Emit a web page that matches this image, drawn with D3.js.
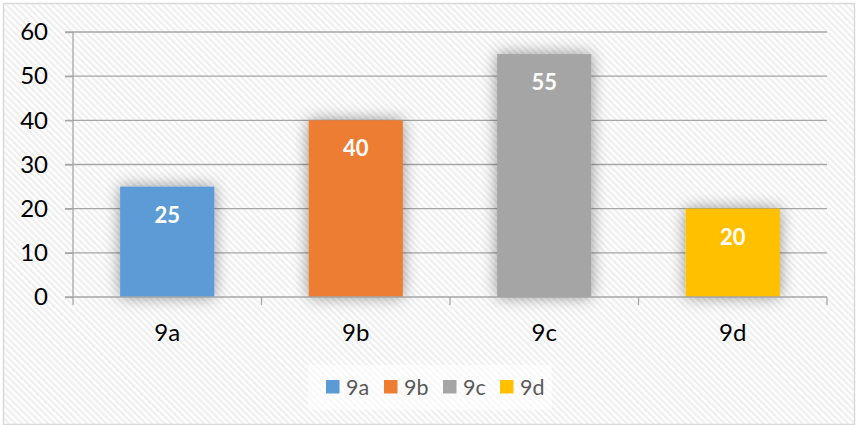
<!DOCTYPE html>
<html>
<head>
<meta charset="utf-8">
<script src="https://cdn.jsdelivr.net/npm/d3@7"></script>
<style>
  html, body { margin: 0; padding: 0; background: #fff; }
  svg { display: block; font-family: Lato, "Open Sans", sans-serif; }
</style>
</head>
<body>
<svg id="chart" width="858" height="425"></svg>
<script>
const categories = ["9a", "9b", "9c", "9d"];
const values = [25, 40, 55, 20];
const colors = ["#5b9bd5", "#ed7d31", "#a5a5a5", "#ffc000"];
const yTicks = [0, 10, 20, 30, 40, 50, 60];

const W = 858, H = 425;
const plot = { left: 73, right: 827, top: 32, bottom: 297 };

const svg = d3.select("#chart");
const defs = svg.append("defs");

const pat = defs.append("pattern")
  .attr("id", "stripes")
  .attr("patternUnits", "userSpaceOnUse")
  .attr("width", 4.6).attr("height", 4.6)
  .attr("patternTransform", "rotate(-45)");
pat.append("rect").attr("width", 4.6).attr("height", 4.6).attr("fill", "#ffffff");
pat.append("rect").attr("width", 2.3).attr("height", 4.6).attr("fill", "#efefef");

const filt = defs.append("filter").attr("id", "glow")
  .attr("x", "-40%").attr("y", "-40%").attr("width", "180%").attr("height", "180%");
filt.append("feDropShadow")
  .attr("dx", 0).attr("dy", 0).attr("stdDeviation", 8)
  .attr("flood-color", "#000").attr("flood-opacity", 0.42);

// background + border
svg.append("rect")
  .attr("x", 3.5).attr("y", 3.5).attr("width", W - 7).attr("height", H - 4)
  .attr("fill", "url(#stripes)").attr("stroke", "#d9d9d9").attr("stroke-width", 1.5);

const x = d3.scaleBand().domain(categories).range([plot.left, plot.right]).paddingInner(0.5).paddingOuter(0.25);
const xb = d3.scaleBand().domain(categories).range([plot.left, plot.right]);
const y = d3.scaleLinear().domain([0, 60]).range([plot.bottom, plot.top]);

// gridlines
svg.append("g").selectAll("line").data(yTicks.filter(d => d > 0)).join("line")
  .attr("x1", plot.left - 8).attr("x2", plot.right)
  .attr("y1", d => y(d)).attr("y2", d => y(d))
  .attr("stroke", "#a6a6a6").attr("stroke-width", 1.3);

// bars
svg.append("g").selectAll("rect").data(values).join("rect")
  .attr("x", (d, i) => x(categories[i]))
  .attr("y", d => y(d))
  .attr("width", x.bandwidth())
  .attr("height", d => y(0) - y(d))
  .attr("fill", (d, i) => colors[i])
  .attr("filter", "url(#glow)");

// y axis
const yAxis = d3.axisLeft(y).tickValues(yTicks).tickSize(8).tickPadding(17);
const gy = svg.append("g").attr("transform", `translate(${plot.left},0)`).call(yAxis);
gy.select(".domain").attr("stroke", "#a6a6a6").attr("stroke-width", 1.3).attr("d", `M0,${plot.top}V${plot.bottom}`);
gy.selectAll(".tick line").attr("stroke", "#a6a6a6").attr("stroke-width", 1.3);
gy.selectAll(".tick text").attr("font-size", 24).attr("fill", "#000").attr("font-family", "Lato, sans-serif");

// x axis
const gx = svg.append("g").attr("transform", `translate(0,${plot.bottom})`);
gx.append("line").attr("x1", plot.left - 8).attr("x2", plot.right).attr("y1", 0).attr("y2", 0)
  .attr("stroke", "#a6a6a6").attr("stroke-width", 1.3);
const bounds = categories.map(c => xb(c)).concat([plot.right]);
gx.selectAll("line.tk").data(bounds).join("line").attr("class", "tk")
  .attr("x1", d => d).attr("x2", d => d).attr("y1", 0).attr("y2", 8)
  .attr("stroke", "#a6a6a6").attr("stroke-width", 1.3);
gx.selectAll("text").data(categories).join("text")
  .attr("x", d => xb(d) + xb.bandwidth() / 2).attr("y", 44)
  .attr("text-anchor", "middle").attr("font-size", 24).attr("fill", "#000")
  .text(d => d);

// data labels
svg.append("g").selectAll("text").data(values).join("text")
  .attr("x", (d, i) => x(categories[i]) + x.bandwidth() / 2)
  .attr("y", d => y(d) + 36)
  .attr("text-anchor", "middle").attr("font-size", 22).attr("font-weight", "bold")
  .attr("fill", "#fff").text(d => d);

// legend
const lg = svg.append("g");
lg.append("rect").attr("x", 308).attr("y", 365).attr("width", 244).attr("height", 45)
  .attr("fill", "#fff").attr("opacity", 0.55);
const legX = [326, 384, 443, 500];
const items = lg.selectAll("g").data(categories).join("g")
  .attr("transform", (d, i) => `translate(${legX[i]},380)`);
items.append("rect").attr("width", 13.5).attr("height", 13.5).attr("fill", (d, i) => colors[i]);
items.append("text").attr("x", 20).attr("y", 14.5).attr("font-size", 21.5).attr("fill", "#595959").text(d => d);
</script>
</body>
</html>
